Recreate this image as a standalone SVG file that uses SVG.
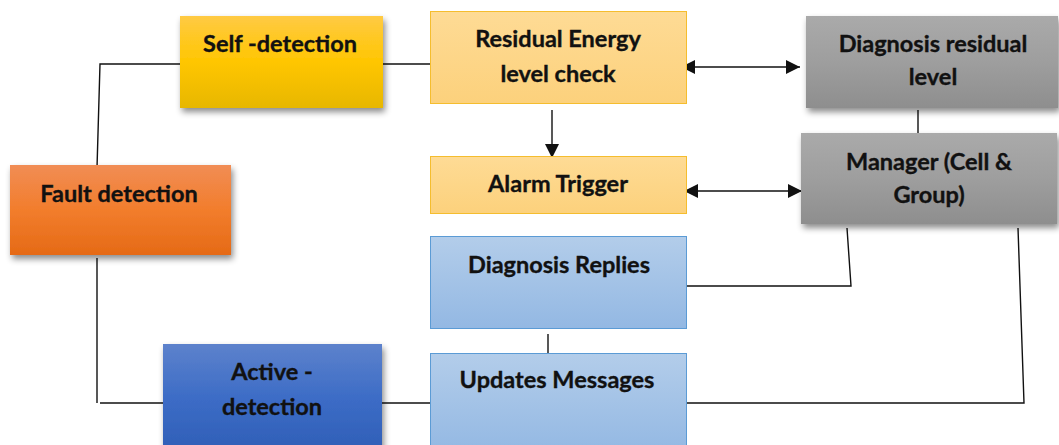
<svg xmlns="http://www.w3.org/2000/svg" width="1059" height="445" viewBox="0 0 1059 445">
  <style>
    .lbl { font-family: Lato, "Liberation Sans", sans-serif; font-weight: 700; font-size: 23.5px; fill: #111; stroke: #111; stroke-width: 0.35; text-anchor: middle; }
    .wire { stroke: #111; stroke-width: 1.4; fill: none; }
    .pale { fill: url(#gPale); stroke: #f5bd2e; stroke-width: 1; }
    .sky { fill: url(#gSky); stroke: #5b9bd5; stroke-width: 1; }
  </style>
  <defs>
    <linearGradient id="gGold" x1="0" y1="0" x2="0" y2="1">
      <stop offset="0" stop-color="#ffca44"/>
      <stop offset="0.5" stop-color="#ffc600"/>
      <stop offset="1" stop-color="#e7b700"/>
    </linearGradient>
    <linearGradient id="gPale" x1="0" y1="0" x2="0" y2="1">
      <stop offset="0" stop-color="#fedb95"/>
      <stop offset="1" stop-color="#fcd17c"/>
    </linearGradient>
    <linearGradient id="gGray" x1="0" y1="0" x2="0" y2="1">
      <stop offset="0" stop-color="#aaaaaa"/>
      <stop offset="0.5" stop-color="#9e9e9e"/>
      <stop offset="1" stop-color="#8e8e8e"/>
    </linearGradient>
    <linearGradient id="gOrange" x1="0" y1="0" x2="0" y2="1">
      <stop offset="0" stop-color="#f18d55"/>
      <stop offset="0.5" stop-color="#f27d2c"/>
      <stop offset="1" stop-color="#e56a16"/>
    </linearGradient>
    <linearGradient id="gBlue" x1="0" y1="0" x2="0" y2="1">
      <stop offset="0" stop-color="#5d82cc"/>
      <stop offset="0.5" stop-color="#3c6cc6"/>
      <stop offset="1" stop-color="#2f5eb6"/>
    </linearGradient>
    <linearGradient id="gSky" x1="0" y1="0" x2="0" y2="1">
      <stop offset="0" stop-color="#b3cdea"/>
      <stop offset="1" stop-color="#93b8e3"/>
    </linearGradient>
    <filter id="shadow" x="-10%" y="-10%" width="125%" height="135%">
      <feDropShadow dx="2" dy="4" stdDeviation="3" flood-color="#000" flood-opacity="0.45"/>
    </filter>
    <marker id="head" viewBox="0 0 10 10" refX="10" refY="5" markerWidth="14" markerHeight="14" markerUnits="userSpaceOnUse" orient="auto-start-reverse">
      <path d="M0,0 L10,5 L0,10 Z" fill="#111"/>
    </marker>
  </defs>

  <g id="connectors">
    <!-- left trunk -->
    <polyline class="wire" points="180,64 100,64 97,168"/>
    <polyline class="wire" points="97,258 97,403"/>
    <line class="wire" x1="100" y1="403" x2="163" y2="403"/>
    <!-- links into the middle column -->
    <line class="wire" x1="380" y1="64" x2="430" y2="64"/>
    <line class="wire" x1="380" y1="403" x2="430" y2="403"/>
    <!-- residual check down to alarm -->
    <line class="wire" x1="552" y1="110" x2="552" y2="158" marker-end="url(#head)"/>
    <!-- two-way links to the right column -->
    <line class="wire" x1="681" y1="67" x2="800" y2="67" marker-start="url(#head)" marker-end="url(#head)"/>
    <line class="wire" x1="684" y1="191" x2="802" y2="191" marker-start="url(#head)" marker-end="url(#head)"/>
    <!-- right column -->
    <line class="wire" x1="918" y1="110" x2="918" y2="137"/>
    <polyline class="wire" points="687,286 851,286 847,228"/>
    <polyline class="wire" points="680,403 1024,403 1018,228"/>
    <line class="wire" x1="548" y1="334" x2="548" y2="358"/>
  </g>

  <g id="self-detection">
    <rect x="180" y="16" width="203" height="92" fill="url(#gGold)" filter="url(#shadow)"/>
    <text class="lbl" x="280" y="52">Self -detection</text>
  </g>

  <g id="residual-check">
    <rect class="pale" x="430.5" y="11.5" width="256" height="92"/>
    <text class="lbl" x="558" y="47">Residual Energy</text>
    <text class="lbl" x="558" y="82">level check</text>
  </g>

  <g id="alarm-trigger">
    <rect class="pale" x="430.5" y="156.5" width="256" height="57"/>
    <text class="lbl" x="558" y="192">Alarm Trigger</text>
  </g>

  <g id="diagnosis-level">
    <rect x="806" y="16" width="252" height="92" fill="url(#gGray)" filter="url(#shadow)"/>
    <text class="lbl" x="933" y="52">Diagnosis residual</text>
    <text class="lbl" x="933" y="85">level</text>
  </g>

  <g id="manager">
    <rect x="801" y="133" width="256" height="91" fill="url(#gGray)" filter="url(#shadow)"/>
    <text class="lbl" x="929" y="170">Manager (Cell &amp;</text>
    <text class="lbl" x="929" y="203">Group)</text>
  </g>

  <g id="fault-detection">
    <rect x="10" y="165" width="221" height="90" fill="url(#gOrange)" filter="url(#shadow)"/>
    <text class="lbl" x="119" y="202">Fault detection</text>
  </g>

  <g id="active-detection">
    <rect x="163" y="344" width="219" height="110" fill="url(#gBlue)" filter="url(#shadow)"/>
    <text class="lbl" x="272" y="380">Active -</text>
    <text class="lbl" x="272" y="415">detection</text>
  </g>

  <g id="diagnosis-replies">
    <rect class="sky" x="430.5" y="236.5" width="256" height="92"/>
    <text class="lbl" x="559" y="273">Diagnosis Replies</text>
  </g>

  <g id="updates-messages">
    <rect class="sky" x="430.5" y="353.5" width="256" height="100"/>
    <text class="lbl" x="557" y="388">Updates Messages</text>
  </g>
</svg>
